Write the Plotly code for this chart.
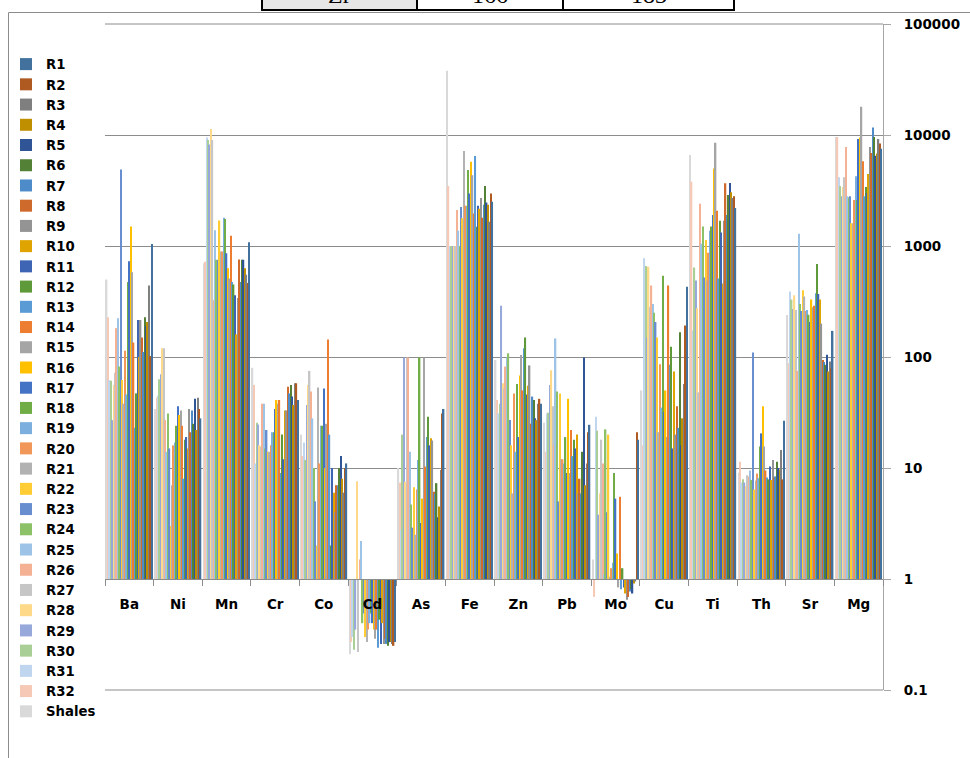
import plotly.graph_objects as go

# Categories (elements)
elements = ["Ba", "Ni", "Mn", "Cr", "Co", "Cd", "As", "Fe", "Zn", "Pb",
            "Mo", "Cu", "Ti", "Th", "Sr", "Mg"]

# Series in drawing order (left -> right inside each group)
series_order = ["Shales"] + ["R%d" % i for i in range(32, 0, -1)]

# Values per element, in the same order as series_order (Shales, R32 ... R1)
ba = [500, 228, 62, 61, 27, 56, 72, 182, 223, 82, 4900, 62, 38, 114, 46, 475, 730,
      1500, 580, 135, 23, 47, 215, 100, 215, 150, 111, 228, 190, 207, 440, 102, 1040]
ni = [34, 43, 45, 63, 70, 120, 120, 27, 14, 31, 15, 3, 7, 16, 17, 24, 36, 30, 33,
      24, 8, 18, 19, 15, 34, 21, 33, 25, 42, 22, 43, 34, 28]
mn = [700, 720, 9500, 9000, 8200, 11300, 9000, 325, 1390, 750, 750, 1700, 890, 890,
      1800, 1750, 860, 630, 510, 1240, 475, 450, 360, 160, 340, 755, 475, 750, 750,
      630, 550, 465, 1080]
cr = [80, 56, 11, 25.5, 24.6, 16, 15.5, 38, 38, 15, 22, 14, 14, 16, 21, 21, 34, 41,
      38, 41, 9, 20, 12, 33, 33, 54, 47, 56, 44, 37, 58, 58, 41]
co = [20, 12.8, 17, 11.8, 37, 56, 75, 49, 28, 10, 5, 2, 53, 11, 24, 24, 52, 10, 25,
      144, 20, 2, 10, 6, 4, 7, 7, 10, 12.8, 8, 6, 10, 11]
cd = [0.21, 0.27, 0.30, 0.23, 0.35, 7.6, 0.22, 1.5, 2.2, 0.40, 0.49, 0.30, 0.27,
      0.35, 0.40, 0.49, 0.40, 0.35, 0.29, 0.35, 0.24, 0.43, 0.26, 0.40, 0.26, 0.29,
      0.26, 0.25, 0.27, 0.27, 0.26, 0.25, 0.27]
as_ = [10, 7.4, 2.8, 20, 99, 7.5, 99, 99, 14, 4.7, 2.9, 6.7, 2.5, 6.4, 11.8, 99, 3.2,
       5.3, 99, 10.3, 19, 29, 16, 18.5, 17.7, 6.1, 5.9, 7.3, 3.6, 4.5, 9.6, 31, 34]
fe = [38000, 3470, 1000, 1000, 1000, 1000, 1000, 2110, 1370, 1000, 2250, 1780, 7180,
      2300, 2300, 4840, 2970, 5750, 4350, 1960, 6470, 1490, 2300, 2170, 2700, 1800,
      2350, 3470, 2460, 2350, 1650, 2970, 2500]
zn = [94, 41, 31, 38, 290, 58, 52, 82, 99, 108, 27, 16, 5.9, 47, 14, 57, 19, 68, 104,
      50, 120, 150, 46, 55, 84, 25, 44, 41, 28, 27, 38, 42, 38]
pb = [25.6, 14, 31, 31.5, 56, 76, 36, 16, 147, 49, 5, 47, 12, 12, 11, 19, 9, 42, 9,
      22, 12.8, 18, 15, 20, 5.9, 8, 5.9, 14, 99, 7, 11, 21, 24.5]
mo = [1.5, 0.69, 29, 21.7, 3.8, 5.9, 18, 11, 1.1, 22.3, 4, 20, 1.05, 1.25, 1.4, 9,
      5.3, 1.7, 0.84, 5.5, 0.81, 1.25, 0.84, 0.74, 0.65, 0.69, 0.77, 0.81, 0.74, 0.91,
      0.95, 21, 18]
cu = [50, 16, 775, 660, 150, 650, 280, 440, 300, 250, 207, 150, 21, 86, 35, 540, 32,
      50, 19, 440, 85, 124, 15, 74, 20, 36, 23, 167, 16, 28, 57, 192, 430]
ti = [6600, 3800, 173, 640, 490, 275, 48, 2400, 1050, 1500, 520, 1130, 490, 870,
      1370, 1500, 1900, 5000, 8500, 2080, 510, 1690, 1320, 460, 1690, 3670, 1900,
      2880, 3700, 3050, 2700, 2800, 2200]
th = [9.1, 11.4, 7.4, 7.9, 7.4, 6.9, 8.6, 8.4, 9.5, 7.8, 110, 6.4, 7.7, 8.9, 8.1,
      15.6, 20.5, 36, 15.6, 9.5, 8.2, 7.9, 10.3, 7.8, 11.8, 8.2, 8.4, 11.4, 10, 9.7,
      14.5, 7.9, 26.7]
sr = [239, 88, 390, 330, 270, 360, 265, 75, 1290, 300, 260, 400, 350, 260, 265, 240,
      207, 330, 280, 290, 375, 690, 370, 330, 200, 94, 90, 85, 105, 74, 91, 79, 172]
mg = [9600, 9600, 4170, 3470, 2800, 3400, 4170, 7800, 2800, 2750, 2800, 1600, 1600,
      2600, 4250, 2600, 9200, 9500, 18000, 5800, 2800, 3400, 3000, 4450, 7800, 6900,
      11700, 9600, 6500, 6800, 9200, 8400, 7500]

element_values = [ba, ni, mn, cr, co, cd, as_, fe, zn, pb, mo, cu, ti, th, sr, mg]

colors = {
    "R1": "#41719C", "R2": "#AE5A21", "R3": "#7F7F7F", "R4": "#BF8F00",
    "R5": "#2F5597", "R6": "#538135", "R7": "#4D8CC8", "R8": "#CF6A2D",
    "R9": "#949494", "R10": "#E0A400", "R11": "#3D65B4", "R12": "#5E9A3A",
    "R13": "#5B9BD5", "R14": "#ED7D31", "R15": "#A5A5A5", "R16": "#FFC000",
    "R17": "#4472C4", "R18": "#70AD47", "R19": "#7CAFDD", "R20": "#F1975A",
    "R21": "#B2B2B2", "R22": "#FFCD33", "R23": "#698ED0", "R24": "#8CC168",
    "R25": "#9DC3E6", "R26": "#F4B193", "R27": "#C6C6C6", "R28": "#FFD98A",
    "R29": "#97A9DA", "R30": "#AACF96", "R31": "#C0D6EE", "R32": "#F6C8B6",
    "Shales": "#D9D9D9",
}

y_ticks = [0.1, 1, 10, 100, 1000, 10000, 100000]
y_ticktext = ["0.1", "1", "10", "100", "1000", "10000", "100000"]

BASE = 1.0  # bars grow from the value 1 (category axis crossing)

fig = go.Figure()
for j, name in enumerate(series_order):
    vals = [ev[j] for ev in element_values]
    fig.add_trace(go.Bar(
        name=name,
        x=elements,
        y=[v - BASE for v in vals],
        base=BASE,
        customdata=vals,
        hovertemplate="%{x}: %{customdata}<extra>" + name + "</extra>",
        marker=dict(color=colors[name], line=dict(width=0)),
    ))

FONT = "DejaVu Sans"
L, R, T, B = 105, 87, 24, 68
W, H = 970, 758
pw, ph = W - L - R, H - T - B


def px_x(px):
    return (px - L) / pw


def px_y(py):
    return (H - B - py) / ph


shapes = []
# outer chart frame
shapes.append(dict(type="rect", xref="paper", yref="paper",
                   x0=px_x(8.5), x1=px_x(990), y0=px_y(780), y1=px_y(12.5),
                   line=dict(color="#8C8C8C", width=1), fillcolor="rgba(0,0,0,0)",
                   layer="below"))
# gridlines at the two range edges (top 100000, bottom 0.1)
for yy in (0, 1):
    shapes.append(dict(type="line", xref="paper", yref="paper",
                       x0=0, x1=1, y0=yy, y1=yy,
                       line=dict(color="#8C8C8C", width=1), layer="below"))
# table fragment at top
cells = [(262, 417, "#E7E6E6"), (417, 563, "white"), (563, 734, "white")]
for x0, x1, fc in cells:
    shapes.append(dict(type="rect", xref="paper", yref="paper",
                       x0=px_x(x0), x1=px_x(x1), y0=px_y(10), y1=px_y(-30),
                       line=dict(color="black", width=2), fillcolor=fc))

annotations = []
for (x0, x1, _), txt in zip(cells, ["Zr", "166", "183"]):
    annotations.append(dict(xref="paper", yref="paper", x=px_x((x0 + x1) / 2),
                            y=px_y(-5), text=txt, showarrow=False,
                            xanchor="center", yanchor="middle",
                            font=dict(family="Liberation Serif", size=24, color="black")))

fig.update_layout(
    width=W, height=H,
    margin=dict(l=L, r=R, t=T, b=B, autoexpand=False),
    paper_bgcolor="white", plot_bgcolor="white",
    barmode="group", bargap=0.04, bargroupgap=0,
    font=dict(family=FONT, size=13, color="black"),
    showlegend=True,
    legend=dict(
        traceorder="reversed",
        xref="container", yref="container",
        x=6 / W, y=1 - 49 / H, xanchor="left", yanchor="top",
        font=dict(family=FONT, size=13.25, color="black", weight="bold"),
        bgcolor="rgba(255,255,255,0)", borderwidth=0,
        itemwidth=30, tracegroupgap=0, maxheight=720,
    ),
    xaxis=dict(
        type="category",
        anchor="free", position=1 / 6,
        showline=True, linecolor="#8C8C8C", linewidth=1,
        ticks="outside", ticklen=6, tickcolor="#8C8C8C", tickson="boundaries",
        showgrid=False, zeroline=False,
        tickfont=dict(family=FONT, size=13.5, color="black", weight="bold"),
        ticklabelstandoff=13,
    ),
    yaxis=dict(
        type="log", range=[-1, 5], side="right",
        tickvals=y_ticks, ticktext=y_ticktext,
        showline=True, linecolor="#A6A6A6", linewidth=1,
        ticks="outside", ticklen=7, tickcolor="#A6A6A6",
        showgrid=True, gridcolor="#8C8C8C", gridwidth=1,
        zeroline=False,
        tickfont=dict(family=FONT, size=13.5, color="black", weight="bold"),
        ticklabelstandoff=10,
    ),
    shapes=shapes,
    annotations=annotations,
)

fig.write_html("out.html",
               config={"displayModeBar": False},
               post_script="document.body.style.margin='0px';document.body.style.padding='0px';")
